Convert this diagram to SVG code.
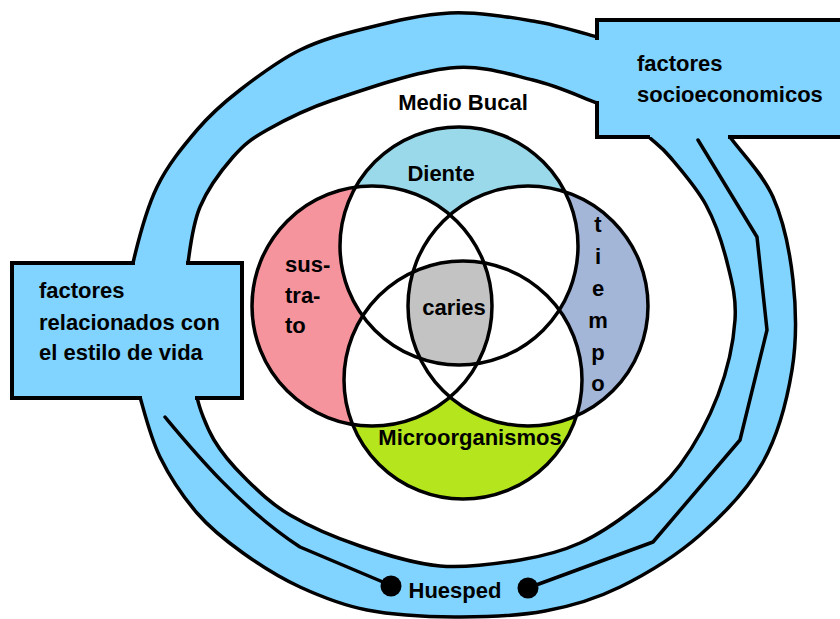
<svg xmlns="http://www.w3.org/2000/svg" width="840" height="619" viewBox="0 0 840 619">
<style>
.ring{fill:#80D4FF;stroke:#000;stroke-width:3.5;stroke-linejoin:round}
.boxfill{fill:#80D4FF}
.bd{fill:none;stroke:#000;stroke-width:4;stroke-linejoin:miter;stroke-linecap:square}
.ln{fill:none;stroke:#000;stroke-width:3.5;stroke-linejoin:round;stroke-linecap:round}
.c{fill:none;stroke:#000;stroke-width:3.5}
text{font-family:"Liberation Sans",Arial,sans-serif;font-weight:bold;font-size:22px;fill:#000}
.m{text-anchor:middle}
</style>
<defs>
<clipPath id="kTop"><circle cx="459" cy="246" r="119"/></clipPath>
<clipPath id="kLeft"><circle cx="372" cy="306" r="120"/></clipPath>
<clipPath id="kRight"><circle cx="528" cy="306" r="120"/></clipPath>
<clipPath id="kBot"><circle cx="463" cy="380" r="119"/></clipPath>
</defs>
<rect width="840" height="619" fill="#fff"/>

<g id="ring">
<path class="ring" d="M133,290 L133,263 C137,245.8 146.3,209.2 157,187 C167.7,164.8 183.2,146.2 197,130 C210.8,113.8 222.8,103.3 240,90 C257.2,76.7 278.8,60.3 300,50 C321.2,39.7 342,34.2 367,28 C392,21.8 422.3,14.2 450,13 C477.7,11.8 508.5,17 533,21 C557.5,25 582.5,33 597,37 L620,45 L620,112 L597,103 C582.5,97.7 557.5,85.8 533,80 C508.5,74.2 483.3,64.7 450,68 C416.7,71.3 363.5,89.7 333,100 C302.5,110.3 283.7,120.5 267,130 C250.3,139.5 244.2,144.2 233,157 C221.8,169.8 207.5,189.3 200,207 C192.5,224.7 190,249.2 188,263 L188,290 Z"/>
<path class="ring" d="M715,115 L730,137 C739.7,150.7 762.5,173.2 773,197 C783.5,220.8 789.8,251.2 793,280 C796.2,308.8 797,339.7 792,370 C787,400.3 778.3,434.5 763,462 C747.7,489.5 723.8,514.2 700,535 C676.2,555.8 645.8,574.3 620,587 C594.2,599.7 572.5,606 545,611 C517.5,616 484.7,617.2 455,617 C425.3,616.8 392.8,615 367,610 C341.2,605 320.7,596.5 300,587 C279.3,577.5 260.2,565.3 243,553 C225.8,540.7 210.8,529 197,513 C183.2,497 169.5,476.3 160,457 C150.5,437.7 144,410.7 140,397 L136,375 L200,375 L197,397 C199.3,407.8 206,426.5 214,440 C222,453.5 232.3,465.5 245,478 C257.7,490.5 270.8,503.7 290,515 C309.2,526.3 335,537.5 360,546 C385,554.5 413.3,563.7 440,566 C466.7,568.3 496.7,563.8 520,560 C543.3,556.2 560.8,551.7 580,543 C599.2,534.3 618.3,521 635,508 C651.7,495 666.2,483.8 680,465 C693.8,446.2 708.8,419.2 718,395 C727.2,370.8 733.5,342.2 735,320 C736.5,297.8 731.8,281.2 727,262 C722.2,242.8 715.5,222.5 706,205 C696.5,187.5 679.7,168.5 670,157 C660.3,145.5 654.7,143 648,136 L630,115 Z"/>
</g>

<g id="box-socioeconomicos">
<rect class="boxfill" x="597" y="20" width="250" height="117"/>
<path class="bd" d="M845,20 L597,20 L597,38 M597,103 L597,137 L648,137 M730,137 L845,137"/>
<text x="637" y="71">factores</text>
<text x="637" y="102">socioeconomicos</text>
</g>

<g id="box-estilo-vida">
<rect class="boxfill" x="12" y="263" width="230" height="135"/>
<path class="bd" d="M133,263 L12,263 L12,398 L140,398 M197,398 L242,398 L242,263 L188,263"/>
<text x="39" y="298">factores</text>
<text x="39" y="330">relacionados con</text>
<text x="39" y="360">el estilo de vida</text>
</g>

<g id="connectors">
<path class="ln" d="M698,140 L757,237 L767,330 L740,440 L653,542 L528,588"/>
<path class="ln" d="M165,417 C190,447 240,508 300,547 L390,585"/>
</g>

<g id="huesped">
<circle cx="391" cy="586" r="10.5" fill="#000"/>
<circle cx="528" cy="588" r="10.5" fill="#000"/>
<text class="m" x="455" y="598">Huesped</text>
</g>

<g id="medio-bucal">
<text class="m" x="463" y="110">Medio Bucal</text>
</g>

<g id="venn-fills">
<circle cx="459" cy="246" r="119" fill="#99D9EA"/>
<circle cx="372" cy="306" r="120" fill="#F5949C"/>
<circle cx="528" cy="306" r="120" fill="#A3B6D8"/>
<circle cx="463" cy="380" r="119" fill="#B5E61D"/>
<circle cx="372" cy="306" r="120" fill="#fff" clip-path="url(#kTop)"/>
<circle cx="528" cy="306" r="120" fill="#fff" clip-path="url(#kTop)"/>
<circle cx="372" cy="306" r="120" fill="#fff" clip-path="url(#kBot)"/>
<circle cx="528" cy="306" r="120" fill="#fff" clip-path="url(#kBot)"/>
<g clip-path="url(#kTop)"><g clip-path="url(#kBot)"><circle cx="372" cy="306" r="120" fill="#C3C3C3" clip-path="url(#kRight)"/></g></g>
</g>

<g id="diente">
<circle class="c" cx="459" cy="246" r="119"/>
<text class="m" x="441" y="181">Diente</text>
</g>
<g id="sustrato">
<circle class="c" cx="372" cy="306" r="120"/>
<text x="285" y="272">sus-</text>
<text x="285" y="303">tra-</text>
<text x="285" y="333">to</text>
</g>
<g id="tiempo">
<circle class="c" cx="528" cy="306" r="120"/>
<text class="m" x="598" y="232">t</text>
<text class="m" x="598" y="264">i</text>
<text class="m" x="598" y="296">e</text>
<text class="m" x="598" y="328">m</text>
<text class="m" x="598" y="360">p</text>
<text class="m" x="598" y="391">o</text>
</g>
<g id="microorganismos">
<circle class="c" cx="463" cy="380" r="119"/>
<text class="m" x="470" y="445">Microorganismos</text>
</g>
<g id="caries">
<text class="m" x="454" y="315">caries</text>
</g>
</svg>
